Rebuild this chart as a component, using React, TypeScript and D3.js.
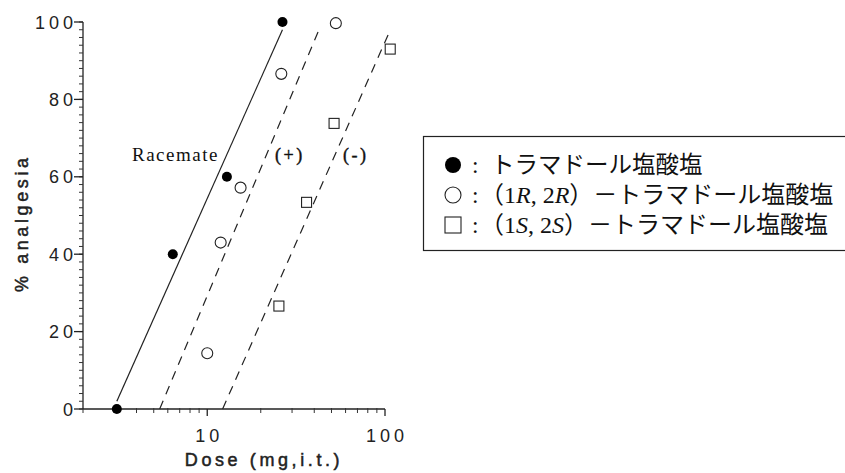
import React from 'react';
import * as d3 from 'd3';

// doses (mg, i.t.) and % analgesia
const racemateDose = [3.1, 6.4, 12.9, 26.5];
const racematePct = [0, 40, 60, 100];
const plusDose = [10, 11.9, 15.4, 26.1, 52.9];
const plusPct = [14.4, 43, 57.2, 86.6, 99.7];
const minusDose = [25.3, 36.2, 51.7, 107];
const minusPct = [26.6, 53.4, 73.8, 93];

// fitted regression lines: [dose, %] end points
const racemateFit = [[3.1, 2], [26.5, 98]];
const plusFit = [[5.4, 0], [42.5, 98]];
const minusFit = [[12.2, 0], [106, 97.5]];

const yTicks = [0, 20, 40, 60, 80, 100];
const xTicks = [10, 100];
const xMinor = [2, 3, 4, 5, 6, 7, 8, 9, 20, 30, 40, 50, 60, 70, 80, 90];

const legendName = 'トラマドール塩酸塩';
const legendRows = [
  { sym: 'filled', iso: '' },
  { sym: 'circle', iso: 'R' },
  { sym: 'square', iso: 'S' },
];

const sans = '"Liberation Sans", Arial, sans-serif';
const serif = '"Liberation Serif", "Noto Sans CJK JP", serif';

export default function App() {
  const width = 845;
  const height = 473;
  const x = d3.scaleLog().domain([2, 100]).range([83, 385]);
  const y = d3.scaleLinear().domain([0, 100]).range([409, 22]);
  const line = d3.line<number[]>().x(d => x(d[0])).y(d => y(d[1]));
  const yMinor = d3.range(0, 101, 2);

  return (
    <svg width={width} height={height} style={{ position: 'absolute', left: 0, top: 0, background: '#fff' }}>
      {/* y axis */}
      <line x1={83} x2={83} y1={y(100)} y2={y(0)} stroke="#222" strokeWidth={1.3} />
      {yMinor.map(v => (
        <line key={'ym' + v} x1={79} x2={83} y1={y(v)} y2={y(v)} stroke="#333" strokeWidth={1} />
      ))}
      {yTicks.map(v => (
        <g key={'y' + v}>
          <line x1={74} x2={83} y1={y(v)} y2={y(v)} stroke="#222" strokeWidth={1.3} />
          <text x={77} y={y(v) + 6.5} textAnchor="end" fontFamily={sans} fontSize={18} letterSpacing={4} fill="#222">{v}</text>
        </g>
      ))}
      <text transform={`translate(28,${y(48)}) rotate(-90)`} textAnchor="middle" fontFamily={sans} fontSize={18} letterSpacing={3.6} stroke="#222" strokeWidth={0.5} fill="#222">% analgesia</text>

      {/* x axis */}
      <line x1={x(2)} x2={x(100)} y1={y(0)} y2={y(0)} stroke="#222" strokeWidth={1.3} />
      {xMinor.map(v => (
        <line key={'xm' + v} x1={x(v)} x2={x(v)} y1={y(0) - 1} y2={y(0) + 4} stroke="#333" strokeWidth={1} />
      ))}
      {xTicks.map(v => (
        <g key={'x' + v}>
          <line x1={x(v)} x2={x(v)} y1={y(0)} y2={y(0) + 7} stroke="#222" strokeWidth={1.3} />
          <text x={x(v) + 2} y={442} textAnchor="middle" fontFamily={sans} fontSize={18} letterSpacing={4} fill="#222">{v}</text>
        </g>
      ))}
      <text x={264} y={466} textAnchor="middle" fontFamily={sans} fontSize={18} letterSpacing={3.6} stroke="#222" strokeWidth={0.5} fill="#222">Dose (mg,i.t.)</text>

      {/* fit lines */}
      <path d={line(racemateFit) || ''} fill="none" stroke="#222" strokeWidth={1.2} />
      <path d={line(plusFit) || ''} fill="none" stroke="#222" strokeWidth={1.2} strokeDasharray="9,7" />
      <path d={line(minusFit) || ''} fill="none" stroke="#222" strokeWidth={1.2} strokeDasharray="9,7" />

      {/* points */}
      {racemateDose.map((d, i) => (
        <circle key={'r' + i} cx={x(d)} cy={y(racematePct[i])} r={5} fill="#000" />
      ))}
      {plusDose.map((d, i) => (
        <circle key={'p' + i} cx={x(d)} cy={y(plusPct[i])} r={5.5} fill="#fff" stroke="#222" strokeWidth={1.1} />
      ))}
      {minusDose.map((d, i) => (
        <rect key={'m' + i} x={x(d) - 5} y={y(minusPct[i]) - 5} width={10} height={10} fill="#fff" stroke="#222" strokeWidth={1.1} />
      ))}

      {/* curve labels */}
      <text x={132} y={161} fontFamily={serif} fontSize={19} letterSpacing={1.5} fill="#111">Racemate</text>
      <text x={275} y={161} fontFamily={serif} fontSize={18} letterSpacing={2.5} stroke="#111" strokeWidth={0.4} fill="#111">(+)</text>
      <text x={343} y={161} fontFamily={serif} fontSize={18} letterSpacing={2.5} stroke="#111" strokeWidth={0.4} fill="#111">(-)</text>

      {/* legend */}
      <rect x={423.5} y={136.5} width={430} height={114} fill="#fff" stroke="#222" strokeWidth={1.2} />
      {legendRows.map((row, i) => {
        const cy = 165 + i * 30;
        return (
          <g key={'lg' + i}>
            {row.sym === 'filled' && <circle cx={453} cy={cy} r={8} fill="#000" />}
            {row.sym === 'circle' && <circle cx={453} cy={cy} r={8} fill="#fff" stroke="#222" strokeWidth={1.1} />}
            {row.sym === 'square' && <rect x={445} y={cy - 8} width={16} height={16} fill="#fff" stroke="#222" strokeWidth={1.1} />}
            <text x={472} y={cy + 8} fontFamily={serif} fontSize={23.5} fill="#111">:</text>
            {row.iso === '' ? (
              <text x={491} y={cy + 8} fontFamily={serif} fontSize={23.5} fill="#111">{legendName}</text>
            ) : (
              <text x={480} y={cy + 8} fontFamily={serif} fontSize={24} fill="#111">
                （1<tspan fontStyle="italic">{row.iso}</tspan>, 2<tspan fontStyle="italic">{row.iso}</tspan>）{'－' + legendName}
              </text>
            )}
          </g>
        );
      })}
    </svg>
  );
}
